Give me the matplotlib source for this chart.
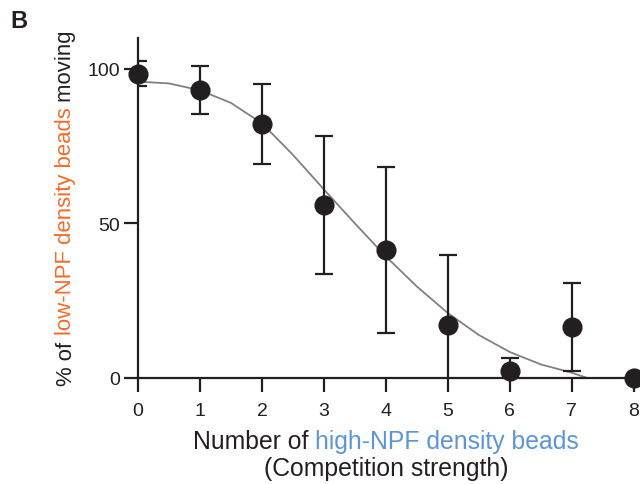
import matplotlib
matplotlib.use("Agg")
import matplotlib.pyplot as plt
import numpy as np

plt.rcParams['font.family'] = ['Liberation Sans', 'DejaVu Sans']

# ---- data ----
n_beads = [0, 1, 2, 3, 4, 5, 6, 7, 8]
pct_moving = [98.5, 93.2, 82.2, 56.0, 41.4, 17.2, 2.3, 16.5, 0.0]
err_sd = [4.0, 7.8, 12.9, 22.3, 27.0, 22.6, 4.2, 14.3, 0.0]

fit_x = [0, 0.5, 1, 1.5, 2, 2.5, 3, 3.5, 4, 4.5, 5, 5.5, 6, 6.5, 7, 7.25]
fit_y = [95.9, 95.3, 93.1, 89.0, 82.4, 72.2, 61.0, 50.0, 39.3, 29.6, 21.0,
         13.9, 8.4, 4.4, 1.7, 0.0]

xticks = [0, 1, 2, 3, 4, 5, 6, 7, 8]
yticks = [0, 50, 100]

ORANGE = '#F26B2A'
BLUE = '#5B95D6'
DARK = '#231F20'

fig = plt.figure(figsize=(6.4, 4.85), dpi=100)
W, H = 640, 485
ax = fig.add_axes([138 / W, 106 / H, 502 / W, 340 / H])

ax.plot(fit_x, fit_y, color='#808080', lw=1.3, zorder=2)
ax.errorbar(n_beads, pct_moving, yerr=err_sd, fmt='none', ecolor=DARK,
            elinewidth=1.6, capsize=6.5, capthick=1.6, zorder=3)
ax.plot(n_beads, pct_moving, 'o', color=DARK, ms=13.5, clip_on=False, zorder=4)

ax.set_xlim(0, 8.1)
ax.set_ylim(0, 110)
ax.set_xticks(xticks)
ax.set_yticks(yticks)
for s in ['top', 'right']:
    ax.spines[s].set_visible(False)
for s in ['left', 'bottom']:
    ax.spines[s].set_linewidth(1.6)
    ax.spines[s].set_color(DARK)
ax.tick_params(axis='both', direction='out', length=10, width=1.6,
               color=DARK, labelsize=14, labelcolor=DARK)
ax.tick_params(axis='x', pad=7)
ax.tick_params(axis='y', pad=3)

fig.text(10 / W, 1 - 28 / H, 'B', fontsize=17, fontweight='bold', color=DARK)

fig.canvas.draw()
r = fig.canvas.get_renderer()


def text_width(s, fs):
    t = fig.text(0, 0, s, fontsize=fs)
    w = t.get_window_extent(r).width
    t.remove()
    return w


def multicolor(parts, cx, cy, fs, rotation=0):
    full = ''.join(p for p, _ in parts)
    total = text_width(full + 'X', fs) - text_width('X', fs)
    offs = []
    prefix = ''
    for p, _ in parts:
        offs.append(text_width(prefix + 'X', fs) - text_width('X', fs) if prefix else 0.0)
        prefix += p
    for (p, c), o in zip(parts, offs):
        if rotation == 0:
            x = cx - total / 2 + o
            y = cy
            fig.text(x / W, y / H, p, color=c, fontsize=fs, ha='left',
                     va='center')
        else:
            x = cx
            y = cy - total / 2 + o
            fig.text(x / W, y / H, p, color=c, fontsize=fs, ha='left',
                     va='center', rotation=90, rotation_mode='anchor')


fsx = 17.8
multicolor([('Number of ', DARK), ('high-NPF density beads', BLUE)],
           386, H - 442, fsx)
fig.text(386 / W, (H - 469) / H, '(Competition strength)', fontsize=fsx,
         color=DARK, ha='center', va='center')

multicolor([('% of ', DARK), ('low-NPF density beads', ORANGE), (' moving', DARK)],
           66, H - 208, 15.9, rotation=90)

fig.savefig('out.png', dpi=100)
